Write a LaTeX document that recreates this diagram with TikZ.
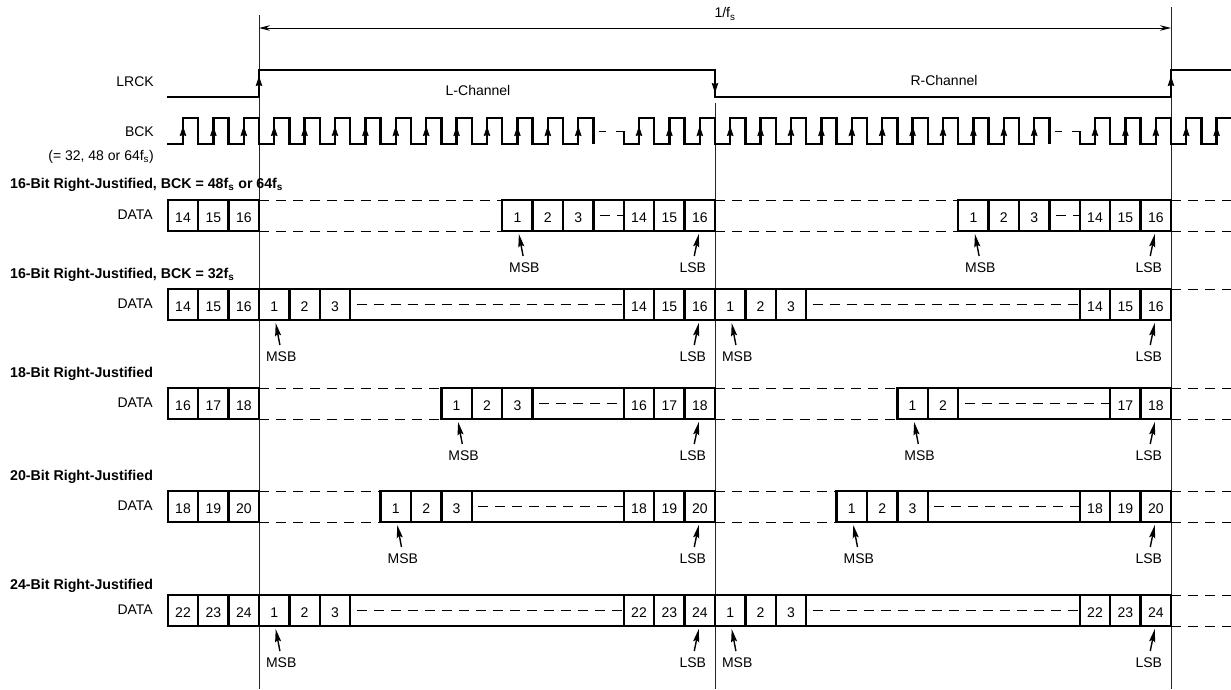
\documentclass[tikz,border=0pt]{standalone}
\usepackage{fontspec}
\setmainfont{Liberation Sans}
\usetikzlibrary{arrows.meta}
\newcounter{nid}
\def\per{30.4}
\tikzset{
  sig/.style={line width=2.4pt, line join=miter},
  boxl/.style={line width=2.3pt},
  refl/.style={line width=1pt, black!85},
  dashl/.style={line width=1pt, dash pattern=on 10pt off 7pt},
  ptr/.style={line width=1.4pt, -{Stealth[length=13pt,width=6pt,inset=2pt]}},
  edgearr/.style={line width=0.8pt, -{Stealth[length=10pt,width=6.5pt,inset=1pt]}},
  dimarr/.style={line width=1pt, {Stealth[length=11pt,width=5.5pt]}-{Stealth[length=11pt,width=5.5pt]}},
  txt/.style={inner sep=0pt, font=\fontsize{14}{16}\selectfont},
  ttl/.style={inner sep=0pt, anchor=west, font=\fontsize{14.2}{16}\selectfont\bfseries},
  lbl/.style={txt, anchor=east},
}
\newcommand\cellbox[4]{%
  \pgfmathsetmacro\cxa{#1}\pgfmathsetmacro\cxb{#2}\stepcounter{nid}%
  \draw[boxl] (\cxa,#3) rectangle (\cxb,#3+31);
  \node[txt] (c\arabic{nid}) at ({(\cxa+\cxb)/2},#3+18) {#4};}
\newcommand\gapbox[3]{%
  \pgfmathsetmacro\cxa{#1}\pgfmathsetmacro\cxb{#2}%
  \draw[boxl] (\cxa,#3) rectangle (\cxb,#3+31);
  \draw[dashl] (\cxa+6.5,#3+15) -- (\cxb,#3+15);}
\newcommand\msbmark[2]{%
  \pgfmathsetmacro\cxc{#1}\stepcounter{nid}%
  \node[txt] (m\arabic{nid}) at (\cxc+7,#2+37) {MSB};
  \coordinate (mt\arabic{nid}) at (\cxc+1.5,#2+3);
  \draw[ptr, shorten <=7pt] (m\arabic{nid}.north) -- (mt\arabic{nid});}
\newcommand\lsbmark[2]{%
  \pgfmathsetmacro\cxc{#1}\stepcounter{nid}%
  \node[txt] (l\arabic{nid}) at (\cxc-7,#2+37) {LSB};
  \coordinate (lt\arabic{nid}) at (\cxc-1,#2+3);
  \draw[ptr, shorten <=7pt] (l\arabic{nid}.north) -- (lt\arabic{nid});}
\begin{document}
\begin{tikzpicture}[x=1pt,y=-1pt]
\useasboundingbox (0,0) rectangle (1231,689);
% reference lines
\draw[refl] (259,15) -- (259,689);
\draw[refl] (715,103) -- (715,689);
\draw[refl] (1171,7) -- (1171,689);
% 1/fs
\coordinate (fa) at (259,28);
\coordinate (fb) at (1171,28);
\draw[dimarr] (fa) -- (fb);
\node[txt] (fs) at (725,14) {1/f\textsubscript{s}};
% LRCK
\node[lbl] (lrck) at (154,82) {LRCK};
\draw[sig] (167,97) -- (259,97) -- (259,70) -- (715,70) -- (715,97) -- (1171,97) -- (1171,70) -- (1231,70);
\draw[edgearr] (259,89) -- (259,76);
\draw[edgearr] (715,80) -- (715,93);
\draw[edgearr] (1171,89) -- (1171,76);
\node[txt] (lch) at (478,90) {L-Channel};
\node[txt] (rch) at (944,80) {R-Channel};
% BCK
\node[lbl] (bck) at (154,132) {BCK};
\node[lbl] (bckf) at (154,157) {(= 32, 48 or 64f\textsubscript{s})};
\draw[sig] (167,144)
  \foreach \k in {-3,...,10} { -- ({259+\per*(\k+0.5)},144) -- ({259+\per*(\k+0.5)},118) -- ({259+\per*(\k+1)},118) -- ({259+\per*(\k+1)},144) };
\draw[sig] ({259+12*\per},131) -- ({259+12*\per},144)
  \foreach \k in {12,...,25} { -- ({259+\per*(\k+0.5)},144) -- ({259+\per*(\k+0.5)},118) -- ({259+\per*(\k+1)},118) -- ({259+\per*(\k+1)},144) };
\draw[sig] ({715+12*\per},131) -- ({715+12*\per},144)
  \foreach \k in {12,...,15} { -- ({715+\per*(\k+0.5)},144) -- ({715+\per*(\k+0.5)},118) -- ({715+\per*(\k+1)},118) -- ({715+\per*(\k+1)},144) }
  -- ({715+16.5*\per},144) -- ({715+16.5*\per},118) -- (1231,118);
\foreach \S in {259,715} {
  \draw[line width=1pt] ({\S+340},131) -- ({\S+347},131) ({\S+357},131) -- ({\S+12*\per},131);
}
\foreach \k in {-3,...,10} { \draw[edgearr] ({259+\per*(\k+0.5)},139) -- ({259+\per*(\k+0.5)},126); }
\foreach \k in {12,...,25} { \draw[edgearr] ({259+\per*(\k+0.5)},139) -- ({259+\per*(\k+0.5)},126); }
\foreach \k in {27,...,31} { \draw[edgearr] ({259+\per*(\k+0.5)},139) -- ({259+\per*(\k+0.5)},126); }
% ---------- Row 1
\node[ttl] (t1) at (10,185) {16-Bit Right-Justified, BCK = 48f\textsubscript{s} or 64f\textsubscript{s}};
\node[lbl] (d1) at (153,215) {DATA};
\cellbox{259-3*\per}{259-2*\per}{200}{14}
\cellbox{259-2*\per}{259-\per}{200}{15}
\cellbox{259-\per}{259}{200}{16}
\foreach \E in {715,1171} {
  \cellbox{\E-7*\per}{\E-6*\per}{200}{1}
  \cellbox{\E-6*\per}{\E-5*\per}{200}{2}
  \cellbox{\E-5*\per}{\E-4*\per}{200}{3}
  \gapbox{\E-4*\per}{\E-3*\per}{200}
  \cellbox{\E-3*\per}{\E-2*\per}{200}{14}
  \cellbox{\E-2*\per}{\E-\per}{200}{15}
  \cellbox{\E-\per}{\E}{200}{16}
  \msbmark{\E-6.5*\per}{231}
  \lsbmark{\E-0.5*\per}{231}
}
\draw[dashl] (259,200) -- ({715-7*\per},200) (259,231) -- ({715-7*\per},231);
\draw[dashl] (715,200) -- ({1171-7*\per},200) (715,231) -- ({1171-7*\per},231);
\draw[dashl] (1171,200) -- (1231,200) (1171,231) -- (1231,231);
% ---------- Row 2
\node[ttl] (t2) at (10,275) {16-Bit Right-Justified, BCK = 32f\textsubscript{s}};
\node[lbl] (d2) at (153,304) {DATA};
\cellbox{259-3*\per}{259-2*\per}{289}{14}
\cellbox{259-2*\per}{259-\per}{289}{15}
\cellbox{259-\per}{259}{289}{16}
\foreach \S in {259,715} {
  \cellbox{\S}{\S+\per}{289}{1}
  \cellbox{\S+\per}{\S+2*\per}{289}{2}
  \cellbox{\S+2*\per}{\S+3*\per}{289}{3}
  \gapbox{\S+3*\per}{\S+456-3*\per}{289}
  \cellbox{\S+456-3*\per}{\S+456-2*\per}{289}{14}
  \cellbox{\S+456-2*\per}{\S+456-\per}{289}{15}
  \cellbox{\S+456-\per}{\S+456}{289}{16}
  \msbmark{\S+0.5*\per}{320}
  \lsbmark{\S+456-0.5*\per}{320}
}
\draw[dashl] (1171,289) -- (1231,289);
% ---------- Row 3
\node[ttl] (t3) at (10,374) {18-Bit Right-Justified};
\node[lbl] (d3) at (153,403) {DATA};
\cellbox{259-3*\per}{259-2*\per}{388}{16}
\cellbox{259-2*\per}{259-\per}{388}{17}
\cellbox{259-\per}{259}{388}{18}
\cellbox{715-9*\per}{715-8*\per}{388}{1}
\cellbox{715-8*\per}{715-7*\per}{388}{2}
\cellbox{715-7*\per}{715-6*\per}{388}{3}
\gapbox{715-6*\per}{715-3*\per}{388}
\cellbox{715-3*\per}{715-2*\per}{388}{16}
\cellbox{715-2*\per}{715-\per}{388}{17}
\cellbox{715-\per}{715}{388}{18}
\cellbox{1171-9*\per}{1171-8*\per}{388}{1}
\cellbox{1171-8*\per}{1171-7*\per}{388}{2}
\gapbox{1171-7*\per}{1171-2*\per}{388}
\cellbox{1171-2*\per}{1171-\per}{388}{17}
\cellbox{1171-\per}{1171}{388}{18}
\foreach \E in {715,1171} {
  \msbmark{\E-8.5*\per}{419}
  \lsbmark{\E-0.5*\per}{419}
}
\draw[dashl] (259,388) -- ({715-9*\per},388) (259,419) -- ({715-9*\per},419);
\draw[dashl] (715,388) -- ({1171-9*\per},388) (715,419) -- ({1171-9*\per},419);
\draw[dashl] (1171,388) -- (1231,388) (1171,419) -- (1231,419);
% ---------- Row 4
\node[ttl] (t4) at (10,477) {20-Bit Right-Justified};
\node[lbl] (d4) at (153,506) {DATA};
\cellbox{259-3*\per}{259-2*\per}{491}{18}
\cellbox{259-2*\per}{259-\per}{491}{19}
\cellbox{259-\per}{259}{491}{20}
\foreach \E in {715,1171} {
  \cellbox{\E-11*\per}{\E-10*\per}{491}{1}
  \cellbox{\E-10*\per}{\E-9*\per}{491}{2}
  \cellbox{\E-9*\per}{\E-8*\per}{491}{3}
  \gapbox{\E-8*\per}{\E-3*\per}{491}
  \cellbox{\E-3*\per}{\E-2*\per}{491}{18}
  \cellbox{\E-2*\per}{\E-\per}{491}{19}
  \cellbox{\E-\per}{\E}{491}{20}
  \msbmark{\E-10.5*\per}{522}
  \lsbmark{\E-0.5*\per}{522}
}
\draw[dashl] (259,491) -- ({715-11*\per},491) (259,522) -- ({715-11*\per},522);
\draw[dashl] (715,491) -- ({1171-11*\per},491) (715,522) -- ({1171-11*\per},522);
\draw[dashl] (1171,491) -- (1231,491) (1171,522) -- (1231,522);
% ---------- Row 5
\node[ttl] (t5) at (10,586) {24-Bit Right-Justified};
\node[lbl] (d5) at (153,610) {DATA};
\cellbox{259-3*\per}{259-2*\per}{595}{22}
\cellbox{259-2*\per}{259-\per}{595}{23}
\cellbox{259-\per}{259}{595}{24}
\foreach \S in {259,715} {
  \cellbox{\S}{\S+\per}{595}{1}
  \cellbox{\S+\per}{\S+2*\per}{595}{2}
  \cellbox{\S+2*\per}{\S+3*\per}{595}{3}
  \gapbox{\S+3*\per}{\S+456-3*\per}{595}
  \cellbox{\S+456-3*\per}{\S+456-2*\per}{595}{22}
  \cellbox{\S+456-2*\per}{\S+456-\per}{595}{23}
  \cellbox{\S+456-\per}{\S+456}{595}{24}
  \msbmark{\S+0.5*\per}{626}
  \lsbmark{\S+456-0.5*\per}{626}
}
\draw[dashl] (1171,595) -- (1231,595) (1171,626) -- (1231,626);
\end{tikzpicture}
\end{document}
